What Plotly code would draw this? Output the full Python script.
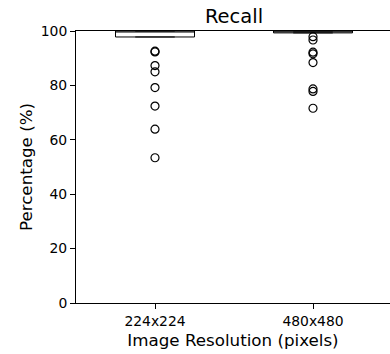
import plotly.graph_objects as go

categories = ["224x224", "480x480"]
positions = [1, 2]
q1_vals = [97.8, 99.3]
median_vals = [100.0, 100.0]
q3_vals = [100.0, 100.0]
lower_whisker = [97.8, 99.3]
upper_whisker = [100.0, 100.0]
outliers_224 = [92.6, 92.3, 87.3, 85.0, 79.2, 72.4, 63.9, 53.4]
outliers_480 = [97.9, 96.7, 92.2, 91.6, 88.4, 78.7, 77.8, 71.6]

FONT = "DejaVu Sans"
fig = go.Figure()

for i, cat in enumerate(categories):
    fig.add_trace(go.Box(
        x=[positions[i]], q1=[q1_vals[i]], median=[median_vals[i]], q3=[q3_vals[i]],
        lowerfence=[lower_whisker[i]], upperfence=[upper_whisker[i]],
        width=0.5, boxpoints=False, fillcolor="rgba(0,0,0,0)",
        line=dict(color="black", width=1), whiskerwidth=0.5, showlegend=False,
        hoverinfo="skip",
    ))

for pos, outs in zip(positions, [outliers_224, outliers_480]):
    fig.add_trace(go.Scatter(
        x=[pos] * len(outs), y=outs, mode="markers",
        marker=dict(symbol="circle-open", size=8, color="black", line=dict(width=1.2, color="black")),
        showlegend=False, hoverinfo="skip",
    ))

fig.update_layout(
    width=390, height=354,
    margin=dict(l=76, r=0, t=31, b=51, autoexpand=False),
    boxmode="overlay",
    paper_bgcolor="white", plot_bgcolor="white",
    font=dict(family=FONT, color="black", size=14),
    title=dict(text="Recall", x=(76 + 392) / 2 / 390, xanchor="center",
               y=1 - 16 / 354, yanchor="middle", automargin=False,
               font=dict(family=FONT, size=19.5, color="black")),
)
fig.update_layout(title_xref="container")
fig.update_xaxes(
    range=[0.5, 0.5 + 314 / 158], tickvals=positions, ticktext=categories,
    showgrid=False, zeroline=False, showline=True, linecolor="black", linewidth=1,
    mirror=True, ticks="outside", ticklen=5, tickcolor="black", automargin=False,
    tickfont=dict(family=FONT, size=13.9, color="black"),
    title=dict(text="Image Resolution (pixels)", font=dict(family=FONT, size=16.7, color="black"), standoff=6),
)
fig.update_yaxes(
    range=[0, 100], tickvals=[0, 20, 40, 60, 80, 100],
    showgrid=False, zeroline=False, showline=True, linecolor="black", linewidth=1,
    ticks="outside", ticklen=5, tickcolor="black", automargin=False,
    tickfont=dict(family=FONT, size=13.9, color="black"),
    title=dict(text="Percentage (%)", font=dict(family=FONT, size=16.7, color="black"), standoff=3),
)

fig.write_html(
    "out.html",
    config={"displayModeBar": False},
    post_script="document.body.style.margin='0';document.documentElement.style.overflow='hidden';document.body.style.overflow='hidden';",
)
